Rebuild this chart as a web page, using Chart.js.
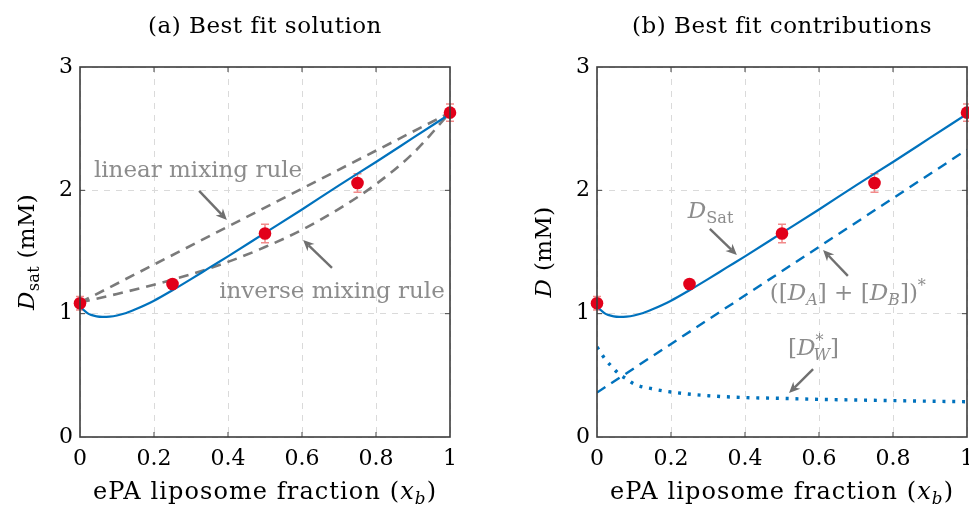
<!DOCTYPE html>
<html>
<head>
<meta charset="utf-8">
<script src="https://cdn.jsdelivr.net/npm/chart.js@4.4.0/dist/chart.umd.min.js"></script>
<style>
  html, body { margin: 0; padding: 0; background: #fff; }
  body { width: 969px; height: 506px; overflow: hidden; position: relative; }
  canvas { position: absolute; top: 0; }
  #chartA { left: 0; }
  #chartB { left: 490px; }
</style>
</head>
<body>
<canvas id="chartA" width="485" height="506"></canvas>
<canvas id="chartB" width="500" height="506"></canvas>
<script>
// measured saturation values with error bars
const xData = [0, 0.25, 0.5, 0.75, 1];
const dData = [1.085, 1.24, 1.65, 2.06, 2.63];
const dErr = [0.055, 0.015, 0.075, 0.075, 0.07];

// best fit D_sat (solid blue)
const fitX = [0, 0.01, 0.02, 0.03, 0.045, 0.06, 0.08, 0.1, 0.125, 0.15, 0.2, 0.25, 0.3, 0.35, 0.4, 0.5, 0.6, 0.7, 0.8, 0.9, 1];
const fitY = [1.06, 1.03, 1.005, 0.99, 0.978, 0.974, 0.976, 0.985, 1.005, 1.035, 1.105, 1.19, 1.28, 1.373, 1.465, 1.655, 1.845, 2.04, 2.23, 2.425, 2.62];

// mixing rules, panel (a)
const linX = [0, 1];
const linY = [1.09, 2.63];
const invX = [0, 0.1, 0.2, 0.3, 0.4, 0.5, 0.6, 0.7, 0.8, 0.9, 1];
const invY = [1.09, 1.16, 1.235, 1.32, 1.42, 1.54, 1.68, 1.85, 2.05, 2.30, 2.63];

// contributions, panel (b)
const abX = [0, 1];
const abY = [0.36, 2.33];
const wX = [0, 0.02, 0.04, 0.06, 0.08, 0.1, 0.15, 0.2, 0.3, 0.4, 0.5, 0.6, 0.7, 0.8, 0.9, 1];
const wY = [0.73, 0.64, 0.57, 0.51, 0.47, 0.43, 0.39, 0.365, 0.335, 0.32, 0.313, 0.305, 0.30, 0.295, 0.29, 0.286];

// axis ticks
const xTicks = [0, 0.2, 0.4, 0.6, 0.8, 1];
const yTicks = [0, 1, 2, 3];

const BLUE = '#0072bd';
const RED = '#e2001a';
const ERR = '#f28a8a';
const GRAY = '#7a7a7a';
const TXT = '#8c8c8c';
const FONT = '"DejaVu Serif", serif';
const FS = 23;

const pts = (xs, ys) => xs.map((x, i) => ({ x: x, y: ys[i] }));

// draws a string made of parts: plain, italic, sub / sup
function drawRich(ctx, parts, x, y, size, color, align, rot, spacing) {
  ctx.save();
  ctx.translate(x, y);
  if (rot) ctx.rotate(rot);
  ctx.letterSpacing = (spacing || 0) + 'px';
  let cx = 0, pend = 0;
  const items = [];
  for (const p of parts) {
    const fs = p.s ? size * 0.7 : size;
    const font = (p.i ? 'italic ' : '') + fs + 'px ' + FONT;
    ctx.font = font;
    const w = ctx.measureText(p.t).width;
    const dy = p.s === 'sub' ? size * 0.22 : p.s === 'sup' ? -size * 0.4 : 0;
    items.push({ t: p.t, font: font, x: cx + (p.dx || 0), dy: dy });
    if (p.keep) pend = Math.max(pend, w);
    else { cx += Math.max(w, pend) + (p.dx || 0); pend = 0; }
  }
  const x0 = align === 'center' ? -cx / 2 : align === 'right' ? -cx : 0;
  ctx.fillStyle = color;
  ctx.textAlign = 'left';
  ctx.textBaseline = 'alphabetic';
  for (const it of items) {
    ctx.font = it.font;
    ctx.fillText(it.t, x0 + it.x, it.dy);
  }
  ctx.restore();
}

function arrow(ctx, x1, y1, x2, y2) {
  const a = Math.atan2(y2 - y1, x2 - x1);
  const len = 11, hw = 5;
  ctx.save();
  ctx.strokeStyle = '#707070';
  ctx.fillStyle = '#707070';
  ctx.lineWidth = 2.4;
  ctx.beginPath();
  ctx.moveTo(x1, y1);
  ctx.lineTo(x2 - Math.cos(a) * len * 0.7, y2 - Math.sin(a) * len * 0.7);
  ctx.stroke();
  ctx.beginPath();
  ctx.moveTo(x2, y2);
  ctx.lineTo(x2 - Math.cos(a) * len - Math.sin(a) * hw, y2 - Math.sin(a) * len + Math.cos(a) * hw);
  ctx.lineTo(x2 - Math.cos(a) * len * 0.7, y2 - Math.sin(a) * len * 0.7);
  ctx.lineTo(x2 - Math.cos(a) * len + Math.sin(a) * hw, y2 - Math.sin(a) * len - Math.cos(a) * hw);
  ctx.closePath();
  ctx.fill();
  ctx.restore();
}

// error bars, frame, titles and annotations
const decor = {
  id: 'decor',
  beforeDatasetsDraw(chart) {
    const ctx = chart.ctx, xs = chart.scales.x, ys = chart.scales.y;
    ctx.save();
    ctx.strokeStyle = ERR;
    ctx.lineWidth = 1.5;
    xData.forEach((x, i) => {
      const px = xs.getPixelForValue(x);
      const top = ys.getPixelForValue(dData[i] + dErr[i]);
      const bot = ys.getPixelForValue(dData[i] - dErr[i]);
      ctx.beginPath();
      ctx.moveTo(px, top); ctx.lineTo(px, bot);
      ctx.moveTo(px - 4, top); ctx.lineTo(px + 4, top);
      ctx.moveTo(px - 4, bot); ctx.lineTo(px + 4, bot);
      ctx.stroke();
    });
    ctx.restore();
  },
  afterDraw(chart, args, opts) {
    const ctx = chart.ctx, a = chart.chartArea, xs = chart.scales.x, ys = chart.scales.y;
    ctx.save();
    // inner tick marks
    ctx.strokeStyle = '#444';
    ctx.lineWidth = 1;
    ctx.beginPath();
    xTicks.slice(1, -1).forEach(v => {
      const p = xs.getPixelForValue(v);
      ctx.moveTo(p, a.bottom); ctx.lineTo(p, a.bottom - 5);
      ctx.moveTo(p, a.top); ctx.lineTo(p, a.top + 5);
    });
    yTicks.slice(1, -1).forEach(v => {
      const p = ys.getPixelForValue(v);
      ctx.moveTo(a.left, p); ctx.lineTo(a.left + 5, p);
      ctx.moveTo(a.right, p); ctx.lineTo(a.right - 5, p);
    });
    ctx.stroke();
    ctx.lineWidth = 1.6;
    ctx.strokeStyle = '#3c3c3c';
    ctx.strokeRect(a.left, a.top, a.right - a.left, a.bottom - a.top);
    ctx.restore();

    const cx = (a.left + a.right) / 2, cy = (a.top + a.bottom) / 2;
    drawRich(ctx, [{ t: opts.title }], cx, 33, FS, '#000', 'center', 0, 0.5);
    drawRich(ctx, [{ t: 'ePA liposome fraction (' }, { t: 'x', i: 1 }, { t: 'b', i: 1, s: 'sub' }, { t: ')' }],
      cx, 499, 24, '#000', 'center', 0, 1.1);
    drawRich(ctx, opts.ylabel, a.left - 46, cy, FS, '#000', 'center', -Math.PI / 2, 0.3);

    opts.notes.forEach(n => {
      drawRich(ctx, n.parts, xs.getPixelForValue(n.x), ys.getPixelForValue(n.y), FS, TXT, 'center');
      arrow(ctx, xs.getPixelForValue(n.from[0]), ys.getPixelForValue(n.from[1]),
        xs.getPixelForValue(n.to[0]), ys.getPixelForValue(n.to[1]));
    });
  }
};

function makeOptions(yWidth, rightPad, extra) {
  return {
    responsive: false,
    animation: false,
    events: [],
    devicePixelRatio: 1,
    layout: { padding: { top: 67, right: rightPad, left: 0, bottom: 0 } },
    plugins: { legend: { display: false }, tooltip: { enabled: false }, decor: extra },
    scales: {
      x: {
        type: 'linear', min: 0, max: 1,
        afterBuildTicks: s => { s.ticks = xTicks.map(v => ({ value: v })); },
        afterFit: s => { s.height = 69; },
        grid: { color: '#dadada', lineWidth: 1, drawTicks: false },
        border: { display: false, dash: [6, 6] },
        ticks: { color: '#000', padding: 9, font: { family: FONT, size: 22 }, callback: v => String(+v.toFixed(2)) }
      },
      y: {
        type: 'linear', min: 0, max: 3,
        afterBuildTicks: s => { s.ticks = yTicks.map(v => ({ value: v })); },
        afterFit: s => { s.width = yWidth; },
        grid: { color: '#dadada', lineWidth: 1, drawTicks: false },
        border: { display: false, dash: [6, 6] },
        ticks: { color: '#000', padding: 7, font: { family: FONT, size: 22 }, callback: v => String(+v.toFixed(2)) }
      }
    }
  };
}

const measured = {
  type: 'scatter', data: pts(xData, dData), showLine: false, clip: false,
  pointRadius: 6.3, pointBackgroundColor: RED, pointBorderWidth: 0
};
const fitLine = {
  data: pts(fitX, fitY), borderColor: BLUE, borderWidth: 2.2,
  pointRadius: 0, cubicInterpolationMode: 'monotone', fill: false
};

new Chart(document.getElementById('chartA'), {
  type: 'line',
  data: {
    datasets: [
      measured,
      fitLine,
      { data: pts(linX, linY), borderColor: GRAY, borderWidth: 2.6, borderDash: [10, 7], pointRadius: 0, fill: false },
      { data: pts(invX, invY), borderColor: GRAY, borderWidth: 2.6, borderDash: [10, 7], pointRadius: 0,
        cubicInterpolationMode: 'monotone', fill: false }
    ]
  },
  options: makeOptions(80, 35, {
    title: '(a) Best fit solution',
    ylabel: [{ t: 'D', i: 1 }, { t: 'sat', s: 'sub' }, { t: ' (mM)' }],
    notes: [
      { parts: [{ t: 'linear mixing rule' }], x: 0.319, y: 2.109, from: [0.322, 1.995], to: [0.397, 1.76] },
      { parts: [{ t: 'inverse mixing rule' }], x: 0.681, y: 1.127, from: [0.681, 1.371], to: [0.603, 1.598] }
    ]
  }),
  plugins: [decor]
});

new Chart(document.getElementById('chartB'), {
  type: 'line',
  data: {
    datasets: [
      measured,
      fitLine,
      { data: pts(abX, abY), borderColor: BLUE, borderWidth: 2.4, borderDash: [10, 7], pointRadius: 0, fill: false },
      { data: pts(wX, wY), borderColor: BLUE, borderWidth: 3.4, borderDash: [3, 6.8], pointRadius: 0,
        cubicInterpolationMode: 'monotone', fill: false }
    ]
  },
  options: makeOptions(107, 23, {
    title: '(b) Best fit contributions',
    ylabel: [{ t: 'D', i: 1 }, { t: ' (mM)' }],
    notes: [
      { parts: [{ t: 'D', i: 1 }, { t: 'Sat', s: 'sub' }], x: 0.307, y: 1.776, from: [0.305, 1.687], to: [0.378, 1.476] },
      { parts: [{ t: '([' }, { t: 'D', i: 1 }, { t: 'A', i: 1, s: 'sub' }, { t: '] + [' }, { t: 'D', i: 1 },
        { t: 'B', i: 1, s: 'sub' }, { t: '])' }, { t: '*', s: 'sup' }],
        x: 0.678, y: 1.111, from: [0.678, 1.306], to: [0.611, 1.517] },
      { parts: [{ t: '[' }, { t: 'D', i: 1 }, { t: '*', s: 'sup', keep: 1 }, { t: 'W', i: 1, s: 'sub', dx: -2 }, { t: ']' }],
        x: 0.585, y: 0.665, from: [0.584, 0.551], to: [0.519, 0.357] }
    ]
  }),
  plugins: [decor]
});
</script>
</body>
</html>
